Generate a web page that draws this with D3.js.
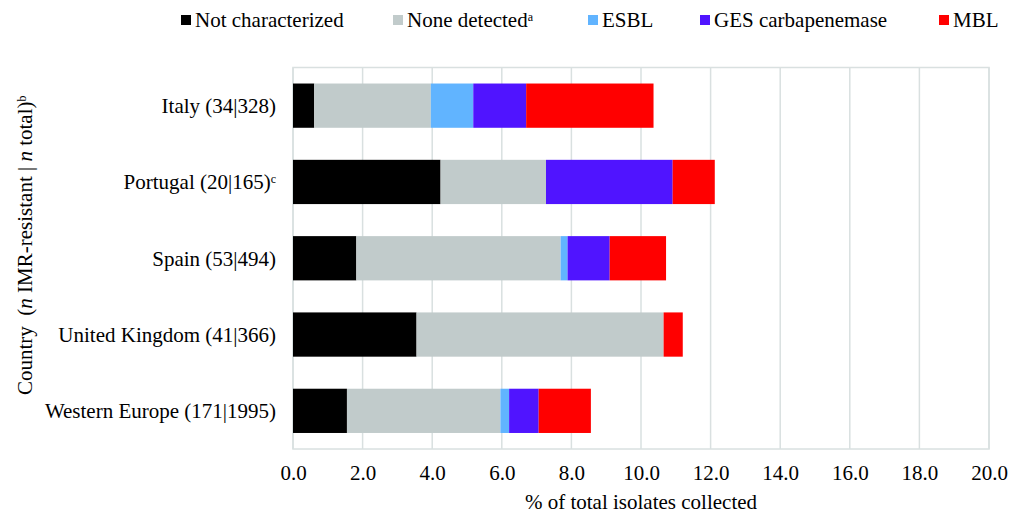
<!DOCTYPE html>
<html>
<head>
<meta charset="utf-8">
<script src="https://cdn.jsdelivr.net/npm/d3@7"></script>
<style>
  body { margin: 0; background: #fff; }
  text { font-family: 'Liberation Serif', 'Times New Roman', serif; fill: #000; }
</style>
</head>
<body>
<div id="chart"></div>
<script>
// categories, top to bottom
var countries = ['Italy (34|328)', 'Portugal (20|165)', 'Spain (53|494)', 'United Kingdom (41|366)', 'Western Europe (171|1995)'];
var countryNotes = ['', 'c', '', '', ''];

// % of total isolates collected, per country
var notCharacterized = [0.61, 4.24, 1.82, 3.55, 1.55];
var noneDetected = [3.35, 3.03, 5.87, 7.10, 4.41];
var esbl = [1.22, 0.00, 0.20, 0.00, 0.25];
var gesCarbapenemase = [1.52, 3.64, 1.21, 0.00, 0.85];
var mbl = [3.66, 1.21, 1.62, 0.55, 1.50];

var seriesNames = ['Not characterized', 'None detected', 'ESBL', 'GES carbapenemase', 'MBL'];
var seriesNotes = ['', 'a', '', '', ''];
var seriesColors = ['#000000', '#c1cbcb', '#61b4ff', '#5014ff', '#ff0000'];
var xTicks = [0, 2, 4, 6, 8, 10, 12, 14, 16, 18, 20];

var f = d3.format('.1f');
var width = 1009, height = 516;

//Build rows for the stack
var rows = countries.map(function(c, i){
    return {
        country: c,
        'Not characterized': notCharacterized[i],
        'None detected': noneDetected[i],
        'ESBL': esbl[i],
        'GES carbapenemase': gesCarbapenemase[i],
        'MBL': mbl[i]
    };
});
var stacked = d3.stack().keys(seriesNames)(rows);

var svg = d3.select('#chart')
    .append('svg')
    .attr('width', width)
    .attr('height', height);

var x = d3.scaleLinear()
    .domain([0, 20])
    .range([293, 989]);

var y = d3.scaleBand()
    .domain(countries)
    .range([67.5, 449])
    .paddingInner(0.42)
    .paddingOuter(0.21);

//Gridlines
svg.append('g')
    .selectAll('line')
    .data(xTicks)
    .enter()
    .append('line')
    .attr('x1', function(d){ return x(d); })
    .attr('x2', function(d){ return x(d); })
    .attr('y1', 67.5)
    .attr('y2', 449)
    .style('stroke', '#d9e0e0')
    .style('stroke-width', 1.5);

//Plot frame
svg.append('rect')
    .attr('x', x(0))
    .attr('y', 67.5)
    .attr('width', x(20) - x(0))
    .attr('height', 449 - 67.5)
    .style('fill', 'none')
    .style('stroke', '#d9e0e0')
    .style('stroke-width', 1.5);

//Stacked bars
svg.selectAll('.series')
    .data(stacked)
    .enter()
    .append('g')
    .attr('class', 'series')
    .style('fill', function(d, i){ return seriesColors[i]; })
    .selectAll('rect')
    .data(function(d){ return d; })
    .enter()
    .append('rect')
    .attr('x', function(d){ return x(d[0]); })
    .attr('width', function(d){ return x(d[1]) - x(d[0]); })
    .attr('y', function(d){ return y(d.data.country); })
    .attr('height', y.bandwidth());

//X axis labels
var xAxis = svg.append('g')
    .attr('transform', 'translate(0,' + 449 + ')')
    .call(d3.axisBottom(x).tickValues(xTicks).tickFormat(f).tickSize(0).tickPadding(0));
xAxis.select('.domain').remove();
xAxis.selectAll('text')
    .attr('y', 31)
    .attr('dy', 0)
    .style('font-family', "'Liberation Serif', 'Times New Roman', serif")
    .style('font-size', '21px')
    .style('fill', '#000');

svg.append('text')
    .attr('x', (x(0) + x(20)) / 2)
    .attr('y', 509)
    .style('font-size', '21px')
    .style('text-anchor', 'middle')
    .text('% of total isolates collected');

//Country labels
var labels = svg.append('g')
    .selectAll('text')
    .data(countries)
    .enter()
    .append('text')
    .attr('x', 276)
    .attr('y', function(d){ return y(d) + y.bandwidth() / 2; })
    .attr('dy', '0.35em')
    .style('font-size', '21px')
    .style('text-anchor', 'end');
labels.append('tspan').text(function(d){ return d; });
labels.append('tspan')
    .attr('dy', '-0.5em')
    .style('font-size', '12px')
    .text(function(d, i){ return countryNotes[i]; });

//Y axis title
var yTitle = svg.append('text')
    .attr('transform', 'translate(32,' + 395 + ') rotate(-90)')
    .style('font-size', '21px')
    .style('white-space', 'pre');
yTitle.append('tspan').text('Country  (');
yTitle.append('tspan').style('font-style', 'italic').text('n');
yTitle.append('tspan').text(' IMR-resistant | ');
yTitle.append('tspan').style('font-style', 'italic').text('n');
yTitle.append('tspan').text(' total)');
yTitle.append('tspan').attr('dy', '-0.5em').style('font-size', '12px').text('b');

//Legend (left edge of each swatch)
var legendX = [181, 393, 588, 700, 939];
seriesNames.forEach(function(name, i){
    svg.append('rect')
        .attr('x', legendX[i])
        .attr('y', 15)
        .attr('width', 10)
        .attr('height', 10)
        .style('fill', seriesColors[i]);
    var t = svg.append('text')
        .attr('x', legendX[i] + 14)
        .attr('y', 27)
        .style('font-size', '21px');
    t.append('tspan').text(name);
    if (seriesNotes[i]) {
        t.append('tspan')
            .attr('dy', '-0.5em')
            .style('font-size', '12px')
            .text(seriesNotes[i]);
    }
});
</script>
</body>
</html>
